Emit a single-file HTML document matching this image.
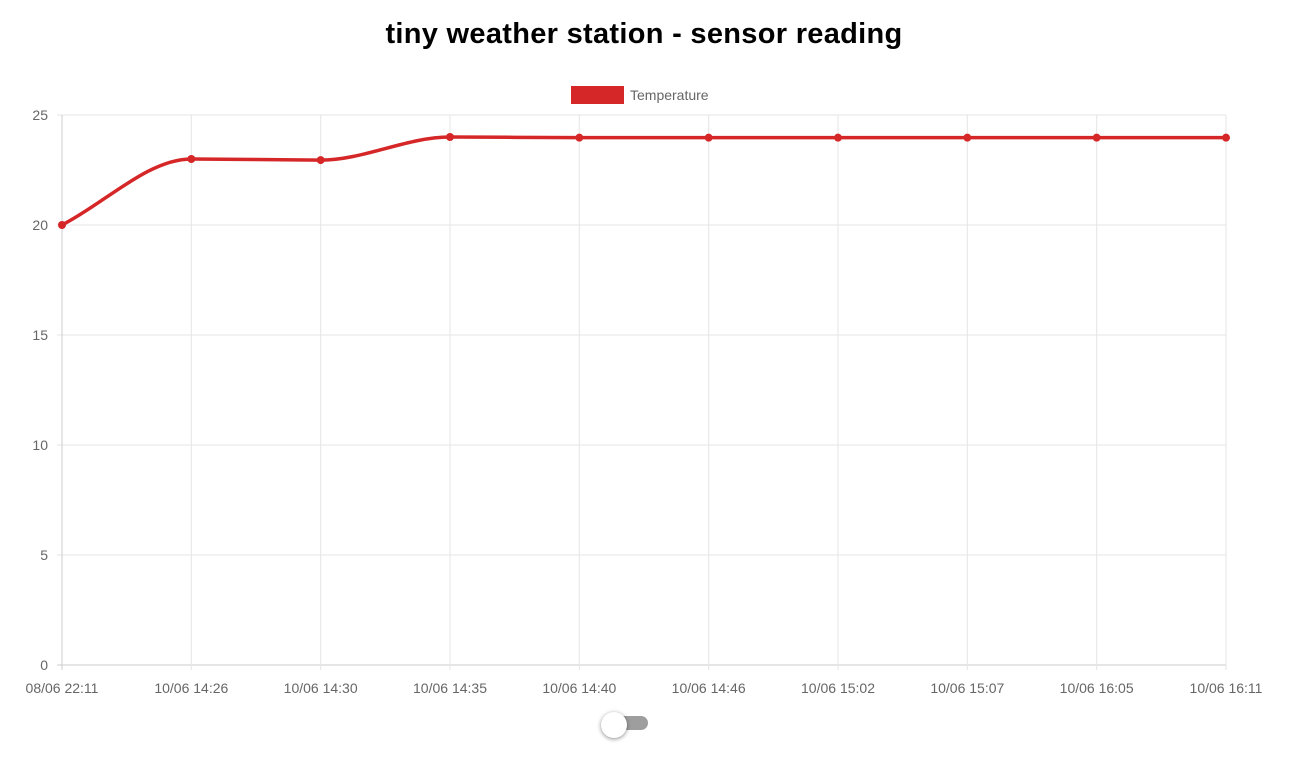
<!DOCTYPE html>
<html><head><meta charset="utf-8"><style>
body{margin:0;width:1306px;height:759px;background:#fff;font-family:"Liberation Sans",sans-serif;overflow:hidden;position:relative}
h1{position:absolute;top:18px;left:0;width:1288px;text-align:center;margin:0;font-size:29px;font-weight:bold;color:#000;letter-spacing:0.3px}
.track{position:absolute;left:604px;top:716px;width:44px;height:14px;border-radius:7px;background:#9e9e9e}
.knob{position:absolute;left:601px;top:712px;width:26px;height:26px;border-radius:50%;background:#fff;box-shadow:0 1px 4px rgba(0,0,0,.45)}
</style></head><body>
<h1>tiny weather station - sensor reading</h1>
<svg id="c" width="1306" height="759" style="position:absolute;left:0;top:0"></svg>
<div class="track"></div>
<div class="knob"></div>
<script>
const categories=["08/06 22:11","10/06 14:26","10/06 14:30","10/06 14:35","10/06 14:40","10/06 14:46","10/06 15:02","10/06 15:07","10/06 16:05","10/06 16:11"];
const temperature=[20,23,22.95,24,23.97,23.97,23.97,23.97,23.97,23.97];
const yTicks=[0,5,10,15,20,25];
const X0=62,X1=1226,Y0=665,Y1=115,YMAX=25;
const svg=document.getElementById('c');
const NS='http://www.w3.org/2000/svg';
function x(i){return X0+(X1-X0)*i/(categories.length-1);}
function y(v){return Y0-(Y0-Y1)*v/YMAX;}
function mk(t,a,p){const e=document.createElementNS(NS,t);for(const k in a)e.setAttribute(k,a[k]);(p||svg).appendChild(e);return e;}
yTicks.forEach(v=>{
 const l=mk('line',{x1:X0-5,x2:X1,y1:y(v),y2:y(v),stroke:v===0?'#ccc':'#e5e5e5','stroke-width':1});
 
 
 const t=mk('text',{x:X0-14,y:y(v)+5,'text-anchor':'end','font-size':14,fill:'#666'});t.textContent=v;
 
 
});
categories.forEach((c,i)=>{
 const l=mk('line',{x1:x(i),x2:x(i),y1:Y1,y2:Y0+5,stroke:i===0?'#ccc':'#e5e5e5','stroke-width':1});
 
 
 const t=mk('text',{x:x(i),y:Y0+28,'text-anchor':'middle','font-size':14,fill:'#666'});t.textContent=c;
 
 
});
// monotone cubic interpolation
const pts=temperature.map((v,i)=>[x(i),y(v)]);
const n=pts.length,dl=[],m=[];
for(let i=0;i<n-1;i++)dl.push((pts[i+1][1]-pts[i][1])/(pts[i+1][0]-pts[i][0]));
for(let i=0;i<n;i++){
 if(i===0)m.push(dl[0]);else if(i===n-1)m.push(dl[n-2]);
 else m.push(dl[i-1]*dl[i]<=0?0:(dl[i-1]+dl[i])/2);
}
for(let i=0;i<n-1;i++){
 if(dl[i]===0){m[i]=0;m[i+1]=0;continue;}
 const a=m[i]/dl[i],b=m[i+1]/dl[i],s=a*a+b*b;
 if(s>9){const t=3/Math.sqrt(s);m[i]=t*a*dl[i];m[i+1]=t*b*dl[i];}
}
let d='M'+pts[0][0]+','+pts[0][1];
for(let i=0;i<n-1;i++){
 const h=(pts[i+1][0]-pts[i][0])/3;
 d+=` C${pts[i][0]+h},${pts[i][1]+m[i]*h} ${pts[i+1][0]-h},${pts[i+1][1]-m[i+1]*h} ${pts[i+1][0]},${pts[i+1][1]}`;
}
const line=mk('path',{d:d,fill:'none',stroke:'#d62728','stroke-width':3.5});


pts.forEach(p=>{const c=mk('circle',{cx:p[0],cy:p[1],r:4,fill:'#d62728'});
 
 });
const lr=mk('rect',{x:571,y:86,width:53,height:18,fill:'#d62728'});


const lt=mk('text',{x:630,y:100,'font-size':14,fill:'#666'});lt.textContent='Temperature';


</script>
</body></html>
